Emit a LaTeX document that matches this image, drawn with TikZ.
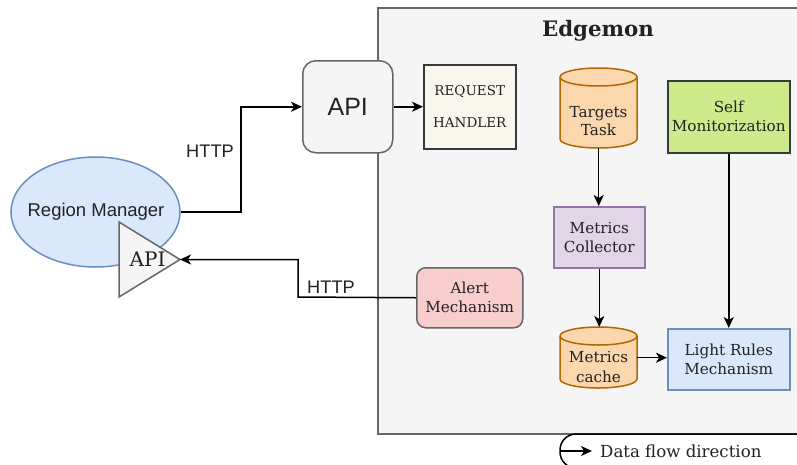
\documentclass[tikz,border=0pt]{standalone}
\usepackage{fontspec}
\usetikzlibrary{arrows.meta,shapes.geometric}
\newfontfamily\dvs{DejaVu Serif}
\newfontfamily\lsans{Liberation Sans}
\definecolor{bluef}{HTML}{DAE8FC}
\definecolor{bluel}{HTML}{6C8EBF}
\definecolor{grayf}{HTML}{F5F5F5}
\definecolor{grayl}{HTML}{666666}
\definecolor{creamf}{HTML}{F9F7ED}
\definecolor{darkl}{HTML}{36393D}
\definecolor{orf}{HTML}{FAD7AC}
\definecolor{orl}{HTML}{B46504}
\definecolor{greenf}{HTML}{CDEB8B}
\definecolor{purf}{HTML}{E1D5E7}
\definecolor{purl}{HTML}{9673A6}
\definecolor{redf}{HTML}{F8CECC}
\definecolor{txt}{HTML}{222222}
\tikzset{
  box/.style={draw, line width=1.5pt, anchor=north west, inner sep=0pt, align=center, text=txt,
    font=\dvs\fontsize{15.2}{19}\selectfont},
  lbl/.style={inner sep=0pt, text=txt, font=\lsans\fontsize{18.2}{21}\selectfont},
  arr/.style={line width=1.5pt, -{Stealth[length=11pt,width=10pt,inset=3pt]}},
  cylt/.style={draw=orl, fill=orf, line width=1.5pt},
}
\begin{document}
\begin{tikzpicture}[x=1pt,y=-1pt]
\useasboundingbox (0,0) rectangle (797,464);
\begin{scope}
\clip (0,0) rectangle (797,464);
% Edgemon container
\draw[grayl, fill=grayf, line width=1.5pt] (378,8) rectangle (840,434);
% legend
\draw[black, fill=white, line width=1.5pt, rounded corners=16pt] (560,434) rectangle (840,468);
\end{scope}
\node[inner sep=0pt, font=\dvs\bfseries\fontsize{21.3}{24}\selectfont, text=txt] (title) at (598,31) {Edgemon};
\coordinate (legs) at (561,451);
\coordinate (lege) at (592,451);
\draw[arr] (legs) -- (lege);
\node[inner sep=0pt, anchor=west, text=txt, font=\dvs\fontsize{16.6}{19}\selectfont] (legtxt) at (600,451) {Data flow direction};

% Region manager
\node[ellipse, draw=bluel, fill=bluef, line width=1.5pt, minimum width=169pt, minimum height=110pt, inner sep=0pt] (rm) at (95.5,212) {};
\node[lbl, font=\lsans\fontsize{18.5}{21}\selectfont] (rmtxt) at (96,212) {Region Manager};
% API triangle
\coordinate (tria) at (180,259.5);
\draw[grayl, fill=grayf, line width=1.5pt] (119,222) -- (tria) -- (119,297) -- cycle;
\node[inner sep=0pt, text=txt, font=\dvs\fontsize{20}{22}\selectfont] (tritxt) at (147.5,259.5) {API};

% API box
\node[box, draw=grayl, fill=grayf, rounded corners=13pt, minimum width=90pt, minimum height=92pt,
  font=\lsans\fontsize{25}{28}\selectfont] (api) at (302,60) {API};
% Request handler
\node[box, draw=darkl, fill=creamf, minimum width=92pt, minimum height=84pt,
  font=\dvs\fontsize{13.5}{32}\selectfont] (req) at (423,64) {REQUEST\\HANDLER};

% Targets task cylinder
\node[anchor=north west, inner sep=0pt, minimum width=77pt, minimum height=80pt] (tt) at (560,68) {};
\draw[cylt] (560,77) -- (560,139) arc[start angle=180, end angle=360, x radius=38.5pt, y radius=9pt]
  -- (637,77) arc[start angle=0, end angle=180, x radius=38.5pt, y radius=9pt] -- cycle;
\draw[cylt, fill=none] (560,77) arc[start angle=180, end angle=360, x radius=38.5pt, y radius=9pt];
\node[inner sep=0pt, align=center, text=txt, font=\dvs\fontsize{15.2}{18.5}\selectfont] (tttxt) at (598.5,121) {Targets\\Task};

% Self Monitorization
\node[box, draw=darkl, fill=greenf, minimum width=122pt, minimum height=72pt] (sm) at (667,80) {Self\\Monitorization};
% Metrics Collector
\node[box, draw=purl, fill=purf, minimum width=91pt, minimum height=61pt] (mcol) at (553,206) {Metrics\\Collector};
% Alert
\node[box, draw=grayl, fill=redf, rounded corners=9pt, minimum width=106pt, minimum height=60pt] (alert) at (416,267) {Alert\\Mechanism};

% Metrics cache cylinder
\node[anchor=north west, inner sep=0pt, minimum width=77pt, minimum height=61pt] (mc) at (560,327) {};
\draw[cylt] (560,336) -- (560,379) arc[start angle=180, end angle=360, x radius=38.5pt, y radius=9pt]
  -- (637,336) arc[start angle=0, end angle=180, x radius=38.5pt, y radius=9pt] -- cycle;
\draw[cylt, fill=none] (560,336) arc[start angle=180, end angle=360, x radius=38.5pt, y radius=9pt];
\node[inner sep=0pt, align=center, text=txt, font=\dvs\fontsize{15.2}{19.5}\selectfont] (mctxt) at (598.5,367) {Metrics\\cache};

% Light rules
\node[box, draw=bluel, fill=bluef, minimum width=122pt, minimum height=61pt] (lr) at (667,328) {Light Rules\\Mechanism};

% connectors
\draw[arr] (rm.east) -- ++(60,0) |- (api.west);
\node[lbl] (http1) at (210,151) {HTTP};
\draw[arr] (api.east) -- (req.west);
\draw[arr] (alert.west) -- (298,297) |- (tria);
\node[lbl] (http2) at (331,287) {HTTP};
\draw[arr] (tt.south) -- (tt.south|-mcol.north);
\draw[arr] (mcol.south) -- (mcol.south|-mc.north);
\draw[arr] (sm.south) -- (sm.south|-lr.north);
\draw[arr] (mc.east) -- (lr.west|-mc.east);
\end{tikzpicture}
\end{document}
